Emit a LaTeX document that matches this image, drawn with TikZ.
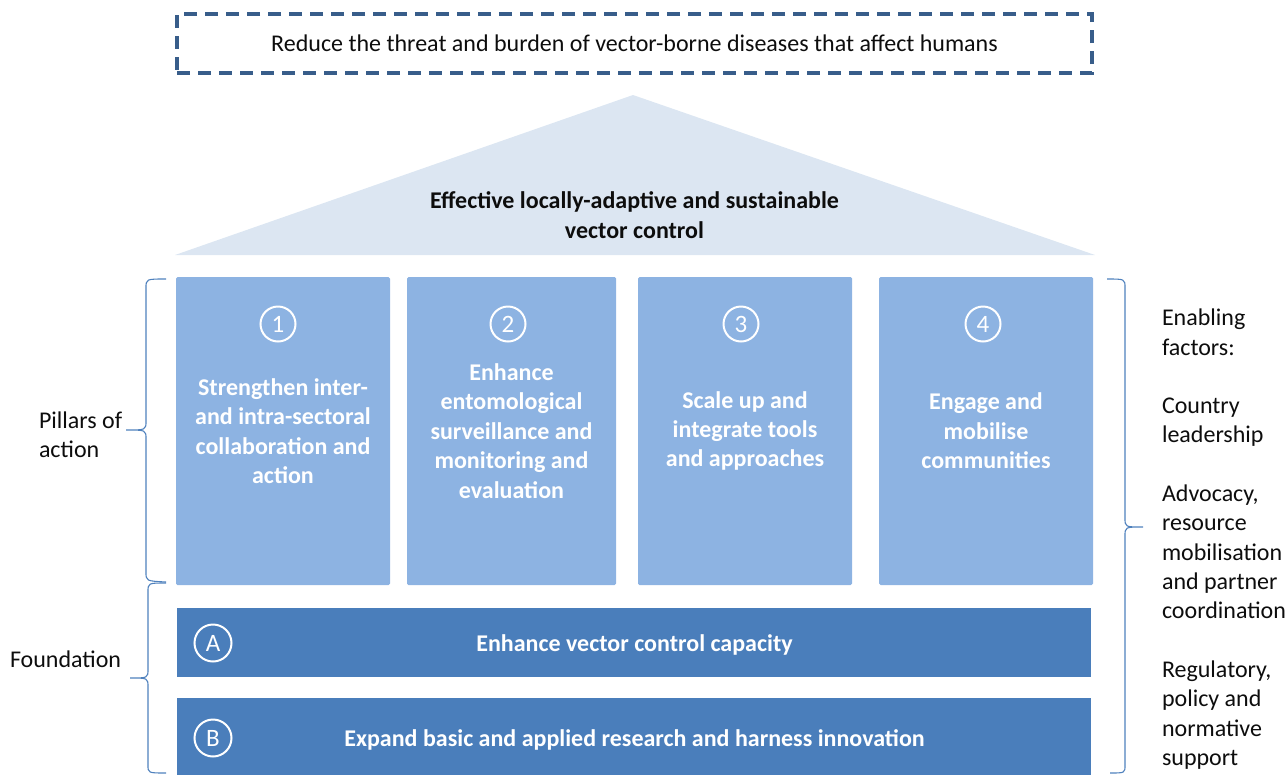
\documentclass[tikz,border=0pt]{standalone}
\usepackage{fontspec}
\setmainfont{Carlito}
\definecolor{dashblue}{HTML}{385D8A}
\definecolor{roofblue}{HTML}{DCE6F2}
\definecolor{pillarblue}{HTML}{8DB3E2}
\definecolor{barblue}{HTML}{4A7EBB}
\definecolor{braceblue}{HTML}{4F81BD}
\definecolor{txt}{HTML}{0D0D0D}
\begin{document}
\begin{tikzpicture}[x=1pt,y=-1pt,
  every node/.style={inner sep=0pt, outer sep=0pt},
  basefont/.style={font=\fontsize{24}{29.4}\selectfont},
  pillar/.style={fill=pillarblue, rounded corners=1.5pt, minimum height=308pt, text=white,
    align=center, font=\fontsize{24}{29.4}\selectfont\bfseries},
  bar/.style={fill=barblue, minimum width=914pt, text=white},
  numcirc/.style={circle, draw=white, line width=2pt, minimum size=35pt, text=white,
    font=\fontsize{25}{25}\selectfont},
  bracestyle/.style={draw=braceblue, line width=1.1pt},
  label/.style={basefont, text=txt, align=left}
]
\useasboundingbox (0,0) rectangle (1287,774);

% goal box
\node[draw=dashblue, line width=3.5pt, dash pattern=on 13pt off 8pt,
  minimum width=915pt, minimum height=59pt, basefont, text=txt] (goal) at (634.5,43.5)
  {Reduce the threat and burden of vector-borne diseases that affect humans};

% roof
\fill[roofblue] (175,255) -- (633,95) -- (1095,255) -- cycle;
\node[basefont, font=\fontsize{24}{29.4}\selectfont\bfseries, text=txt, align=center] (roof) at (634.5,215)
  {Effective locally-adaptive and sustainable\\vector control};

% pillars
\node[pillar, minimum width=214pt] (p1) at (283,431) {Strengthen inter-\\and intra-sectoral\\collaboration and\\action};
\node[pillar, minimum width=209pt] (p2) at (511.5,431) {Enhance\\entomological\\surveillance and\\monitoring and\\evaluation};
\node[pillar, minimum width=214pt] (p3) at (745,431) {Scale up and\\integrate tools\\and approaches};
\node[pillar, minimum width=214pt] (p4) at (986,431) {Engage and\\mobilise\\communities};

\node[numcirc] (c1) at (278,324) {1};
\node[numcirc] (c2) at (508,324) {2};
\node[numcirc] (c3) at (741,324) {3};
\node[numcirc] (c4) at (983,324) {4};

% foundation bars
\node[bar, minimum height=69pt] (fa) at (634,642.5) {};
\node[bar, minimum height=82pt] (fb) at (634,739) {};
\node[basefont, font=\fontsize{24}{29.4}\selectfont\bfseries, text=white] (ta) at (634.5,645) {Enhance vector control capacity};
\node[basefont, font=\fontsize{24}{29.4}\selectfont\bfseries, text=white] (tb) at (634.5,740) {Expand basic and applied research and harness innovation};
\node[numcirc, minimum size=37pt] (ca) at (213,643) {A};
\node[numcirc, minimum size=37pt] (cb) at (213,738) {B};

% braces
\draw[bracestyle] (166,279) .. controls (146,279) .. (146,288) -- (146,421)
  .. controls (146,430) .. (126,430) .. controls (146,430) .. (146,439) -- (146,572)
  .. controls (146,581) .. (166,582);
\draw[bracestyle] (166,583) .. controls (148,583) .. (148,592) -- (148,669)
  .. controls (148,678) .. (130,678) .. controls (148,678) .. (148,687) -- (148,765)
  .. controls (148,773) .. (166,773);
\draw[bracestyle] (1107,279) .. controls (1125,279) .. (1125,288) -- (1125,518)
  .. controls (1125,527) .. (1143,527) .. controls (1125,527) .. (1125,536) -- (1125,765)
  .. controls (1125,773) .. (1110,773);

% side labels
\node[label, anchor=west] (lp) at (39,435) {Pillars of\\action};
\node[label, anchor=west] (lf) at (10,659) {Foundation};
\node[label, anchor=north west] (lr) at (1162,309) {Enabling\\factors:\\[29pt]Country\\leadership\\[29pt]Advocacy,\\resource\\mobilisation\\and partner\\coordination\\[29pt]Regulatory,\\policy and\\normative\\support};
\end{tikzpicture}
\end{document}
